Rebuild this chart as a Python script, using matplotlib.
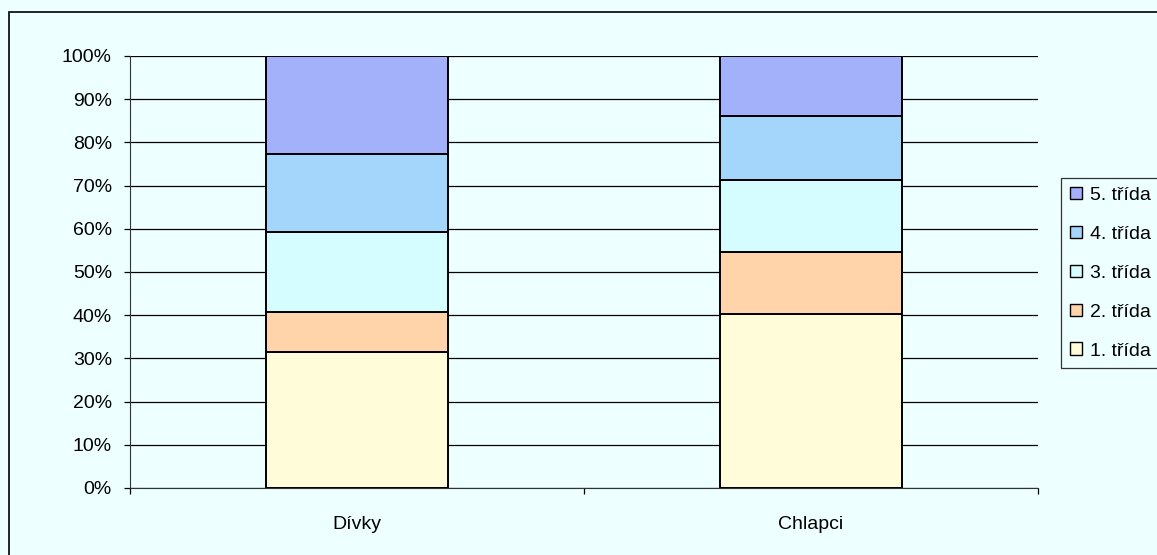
import matplotlib.pyplot as plt
from matplotlib.patches import Rectangle, Patch
from matplotlib.ticker import FixedLocator, PercentFormatter

plt.rcParams['font.family'] = ['Liberation Sans', 'DejaVu Sans']

# data (podíly v %)
skupiny = ['Dívky', 'Chlapci']
tridy = ['1. třída', '2. třída', '3. třída', '4. třída', '5. třída']
hodnoty = {
    '1. třída': [31.5, 40.3],
    '2. třída': [9.2, 14.4],
    '3. třída': [18.5, 16.7],
    '4. třída': [18.1, 14.8],
    '5. třída': [22.7, 13.8],
}
barvy = ['#FEFCD9', '#FFD4AA', '#D5FCFE', '#A3D6FA', '#A3B1FA']

bg = '#EEFFFF'
fig = plt.figure(figsize=(11.57, 5.55), dpi=100, facecolor=bg)
ax = fig.add_axes([130 / 1157, 1 - 488 / 555, 908 / 1157, 432 / 555])
ax.set_facecolor(bg)

# vnější rámeček grafu
fig.patches.append(Rectangle((9 / 1157, -0.1), 1.2, 1 - 12 / 555 + 0.1,
                             transform=fig.transFigure, fill=False,
                             edgecolor='black', linewidth=1.2, zorder=0))

x = range(len(skupiny))
dno = [0] * len(skupiny)
for t, c in zip(tridy, barvy):
    ax.bar(x, hodnoty[t], bottom=dno, width=0.4, color=c,
           edgecolor='black', linewidth=1.4, zorder=3, label=t)
    dno = [d + v for d, v in zip(dno, hodnoty[t])]

ax.set_xlim(-0.5, 1.5)
ax.set_ylim(0, 100)
ax.yaxis.set_major_locator(FixedLocator(range(0, 101, 10)))
ax.yaxis.set_major_formatter(PercentFormatter(decimals=0))
ax.yaxis.grid(True, color='black', linewidth=0.9, zorder=1)
ax.set_axisbelow(True)

ax.set_xticks([-0.5, 0.5, 1.5])
ax.set_xticklabels([])
ax.set_xticks(list(x), minor=True)
ax.set_xticklabels(skupiny, minor=True)
ax.tick_params(axis='x', which='minor', length=0, pad=20, labelsize=14)
ax.tick_params(axis='x', which='major', length=4, width=0.9, direction='out')
ax.tick_params(axis='y', length=4, width=0.9, direction='out', labelsize=14, pad=9)

for s in ['top', 'right']:
    ax.spines[s].set_visible(False)
ax.spines['left'].set_color('#333333')
ax.spines['bottom'].set_color('#333333')

handles = [Patch(facecolor=c, edgecolor='black', linewidth=1.0, label=t)
           for t, c in zip(tridy, barvy)][::-1]
leg = fig.legend(handles=handles, loc='upper left',
                 bbox_to_anchor=(1061 / 1157, 1 - 178 / 555),
                 frameon=True, fancybox=False, edgecolor='black',
                 facecolor=bg, fontsize=14, handlelength=0.62,
                 handleheight=0.62, handletextpad=0.4, labelspacing=1.12,
                 borderpad=0.45, borderaxespad=0)
leg.get_frame().set_linewidth(0.9)

fig.savefig('out.png', dpi=100, facecolor=bg)
